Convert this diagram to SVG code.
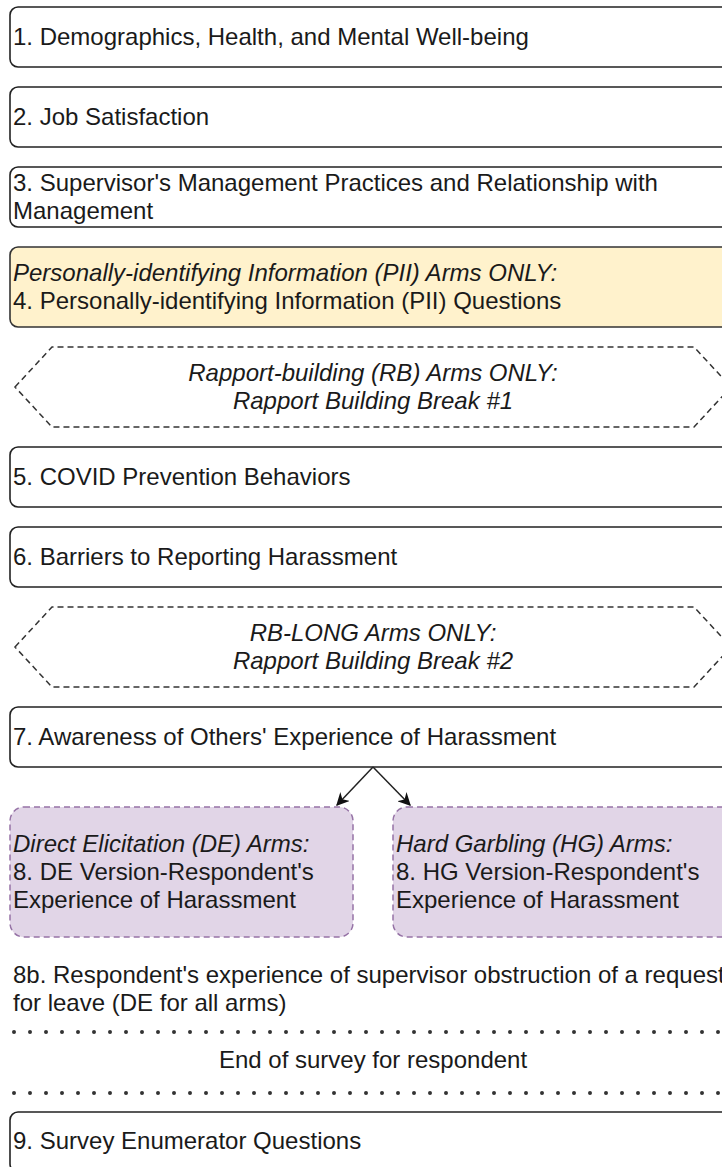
<svg xmlns="http://www.w3.org/2000/svg" width="722" height="1167" viewBox="0 0 722 1167">
  <style>
    text { font-family: "Liberation Sans", Arial, Helvetica, sans-serif; font-size: 24px; fill: #1a1a1a; }
    .c { text-anchor: middle; }
    .i { font-style: italic; }
    .box { fill: #ffffff; stroke: #222; stroke-width: 1.6; }
    .yel { fill: #fff2cc; stroke: #333; stroke-width: 1.6; }
    .hex { fill: #ffffff; stroke: #333; stroke-width: 1.5; stroke-dasharray: 6 4; }
    .pur { fill: #e1d5e7; stroke: #9673a6; stroke-width: 1.5; stroke-dasharray: 6 4; }
    .dots { stroke: #333; stroke-width: 4; stroke-linecap: round; stroke-dasharray: 0 16; fill: none; }
    .edge { stroke: #222; stroke-width: 1.5; fill: none; }
  </style>
  <defs>
    <marker id="arr" viewBox="0 0 10 10" refX="9" refY="5" markerWidth="13" markerHeight="13" markerUnits="userSpaceOnUse" orient="auto">
      <path d="M0,0 L10,5 L0,10 L3,5 Z" fill="#111"/>
    </marker>
  </defs>
  <rect width="722" height="1167" fill="#ffffff"/>

  <g id="n1"><rect class="box" x="10" y="7" width="727" height="60" rx="8"/><text x="13" y="45">1. Demographics, Health, and Mental Well-being</text></g>
  <g id="n2"><rect class="box" x="10" y="87" width="727" height="60" rx="8"/><text x="13" y="125">2. Job Satisfaction</text></g>
  <g id="n3"><rect class="box" x="10" y="167" width="727" height="60" rx="8"/><text x="13" y="191">3. Supervisor's Management Practices and Relationship with</text><text x="13" y="219">Management</text></g>
  <g id="n4"><rect class="yel" x="10" y="247" width="727" height="80" rx="8"/><text x="13" y="281" class="i">Personally-identifying Information (PII) Arms ONLY:</text><text x="13" y="309">4. Personally-identifying Information (PII) Questions</text></g>
  <g id="rb1"><polygon class="hex" points="15,387 52,347 694,347 731,387 694,427 52,427"/><text x="373" y="381" class="c i">Rapport-building (RB) Arms ONLY:</text><text x="373" y="409" class="c i">Rapport Building Break #1</text></g>
  <g id="n5"><rect class="box" x="10" y="447" width="727" height="60" rx="8"/><text x="13" y="485">5. COVID Prevention Behaviors</text></g>
  <g id="n6"><rect class="box" x="10" y="527" width="727" height="60" rx="8"/><text x="13" y="565">6. Barriers to Reporting Harassment</text></g>
  <g id="rb2"><polygon class="hex" points="15,647 52,607 694,607 731,647 694,687 52,687"/><text x="373" y="641" class="c i">RB-LONG Arms ONLY:</text><text x="373" y="669" class="c i">Rapport Building Break #2</text></g>
  <g id="n7"><rect class="box" x="10" y="707" width="727" height="60" rx="8"/><text x="13" y="745">7. Awareness of Others' Experience of Harassment</text></g>
  <g id="n8de"><rect class="pur" x="10" y="807" width="343" height="130" rx="14"/><text x="13" y="852" class="i">Direct Elicitation (DE) Arms:</text><text x="13" y="880">8. DE Version-Respondent's</text><text x="13" y="908">Experience of Harassment</text></g>
  <g id="n8hg"><rect class="pur" x="393" y="807" width="343" height="130" rx="14"/><text x="396" y="852" class="i">Hard Garbling (HG) Arms:</text><text x="396" y="880">8. HG Version-Respondent's</text><text x="396" y="908">Experience of Harassment</text></g>
  <g id="n8b"><text x="13" y="983">8b. Respondent's experience of supervisor obstruction of a request</text><text x="13" y="1011">for leave (DE for all arms)</text></g>
  <g id="end"><line class="dots" x1="14" y1="1032" x2="740" y2="1032"/><text x="373" y="1068" class="c">End of survey for respondent</text><line class="dots" x1="14" y1="1093" x2="740" y2="1093"/></g>
  <g id="n9"><rect class="box" x="10" y="1112" width="727" height="60" rx="8"/><text x="13" y="1149">9. Survey Enumerator Questions</text></g>

  <g id="connectors">
    <line class="edge" x1="373" y1="767" x2="337" y2="805" marker-end="url(#arr)"/>
    <line class="edge" x1="373" y1="767" x2="410" y2="805" marker-end="url(#arr)"/>
  </g>
</svg>
